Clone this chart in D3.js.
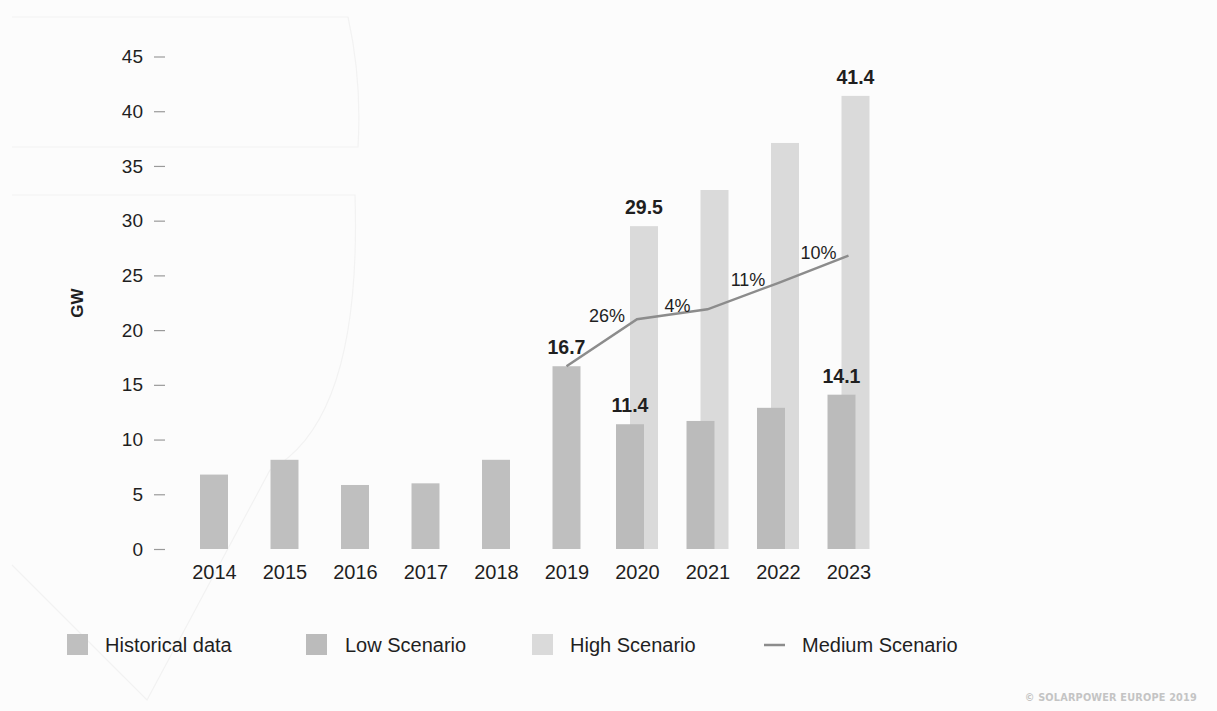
<!DOCTYPE html>
<html>
<head>
<meta charset="utf-8">
<script src="https://cdn.jsdelivr.net/npm/d3@7"></script>
<style>
  html, body { margin: 0; padding: 0; background: #fcfcfc; }
  svg { display: block; font-family: "Liberation Sans", Arial, Helvetica, sans-serif; }
</style>
</head>
<body>
<svg id="chart" width="1217" height="711"></svg>
<script>
// Installed PV capacity (GW), historical and scenario outlook
const years = ["2014", "2015", "2016", "2017", "2018", "2019", "2020", "2021", "2022", "2023"];
const historicalYears = ["2014", "2015", "2016", "2017", "2018", "2019"];
const historicalValues = [6.8, 8.15, 5.85, 6.0, 8.15, 16.7];
const scenarioYears = ["2020", "2021", "2022", "2023"];
const lowValues = [11.4, 11.7, 12.9, 14.1];
const highValues = [29.5, 32.8, 37.1, 41.4];
const mediumYears = ["2019", "2020", "2021", "2022", "2023"];
const mediumValues = [16.7, 21.0, 21.9, 24.3, 26.8];
const growthLabels = ["26%", "4%", "11%", "10%"];
const yTicks = [0, 5, 10, 15, 20, 25, 30, 35, 40, 45];
const legendLabels = ["Historical data", "Low Scenario", "High Scenario", "Medium Scenario"];

const colors = { historical: "#bfbfbf", low: "#bbbbbb", high: "#dadada", medium: "#8c8c8c", text: "#1f1f1f" };

const svg = d3.select("#chart");

// faint decorative background shapes
const deco = svg.append("g").attr("fill", "none").attr("stroke", "#f2f2f2").attr("stroke-width", 1.2);
deco.append("path").attr("d", "M12,17 L348,17 Q362,80 358,147 L12,147");
deco.append("path").attr("d", "M12,195 L355,195 Q362,420 270,470 Q200,600 147,700 L12,565");

const y = d3.scaleLinear().domain([0, 45]).range([549, 56.5]);
const x = d3.scalePoint().domain(years).range([214, 848.5]);
const barW = 28;
const offset = 7;

// y axis: short dash ticks, no domain line
const yAxis = svg.append("g")
  .attr("transform", "translate(165,0)")
  .call(d3.axisLeft(y).tickValues(yTicks).tickSize(11).tickPadding(11));
yAxis.select(".domain").remove();
yAxis.selectAll(".tick line").attr("stroke", "#9a9a9a").attr("stroke-width", 1.2);
yAxis.selectAll(".tick text").attr("font-size", 19).attr("fill", colors.text)
  .attr("font-family", "Liberation Sans, Arial, sans-serif");

// x axis labels
const xAxis = svg.append("g")
  .attr("transform", "translate(0,549)")
  .call(d3.axisBottom(x).tickSize(0).tickPadding(16));
xAxis.select(".domain").remove();
xAxis.selectAll(".tick text").attr("font-size", 20).attr("fill", colors.text)
  .attr("font-family", "Liberation Sans, Arial, sans-serif");

// axis title
svg.append("text")
  .attr("transform", "translate(83,303) rotate(-90)")
  .attr("text-anchor", "middle")
  .attr("font-size", 17).attr("font-weight", "bold").attr("fill", colors.text)
  .text("GW");

// high scenario bars (behind)
svg.append("g").selectAll("rect")
  .data(scenarioYears.map((yr, i) => ({ yr, v: highValues[i] })))
  .join("rect")
  .attr("x", d => x(d.yr) + offset - barW / 2)
  .attr("y", d => y(d.v))
  .attr("width", barW)
  .attr("height", d => y(0) - y(d.v))
  .attr("fill", colors.high);

// low scenario bars
svg.append("g").selectAll("rect")
  .data(scenarioYears.map((yr, i) => ({ yr, v: lowValues[i] })))
  .join("rect")
  .attr("x", d => x(d.yr) - offset - barW / 2)
  .attr("y", d => y(d.v))
  .attr("width", barW)
  .attr("height", d => y(0) - y(d.v))
  .attr("fill", colors.low);

// historical bars
svg.append("g").selectAll("rect")
  .data(historicalYears.map((yr, i) => ({ yr, v: historicalValues[i] })))
  .join("rect")
  .attr("x", d => x(d.yr) - barW / 2)
  .attr("y", d => y(d.v))
  .attr("width", barW)
  .attr("height", d => y(0) - y(d.v))
  .attr("fill", colors.historical);

// medium scenario line
const medPts = mediumYears.map((yr, i) => ({ yr, v: mediumValues[i] }));
svg.append("path")
  .datum(medPts)
  .attr("fill", "none")
  .attr("stroke", colors.medium)
  .attr("stroke-width", 2.5)
  .attr("d", d3.line().x(d => x(d.yr)).y(d => y(d.v)));

// growth rate labels, left of each segment's end point
svg.append("g").selectAll("text")
  .data(growthLabels.map((t, i) => ({ t, p: medPts[i + 1] })))
  .join("text")
  .attr("x", d => x(d.p.yr) - 30)
  .attr("y", d => y(d.p.v) + 3)
  .attr("text-anchor", "middle")
  .attr("font-size", 18).attr("fill", colors.text)
  .text(d => d.t);

// value labels
const valueLabels = [
  { yr: "2019", v: historicalValues[5], dx: 0 },
  { yr: "2020", v: highValues[0], dx: offset },
  { yr: "2023", v: highValues[3], dx: offset },
  { yr: "2020", v: lowValues[0], dx: -offset },
  { yr: "2023", v: lowValues[3], dx: -offset }
];
svg.append("g").selectAll("text")
  .data(valueLabels)
  .join("text")
  .attr("x", d => x(d.yr) + d.dx)
  .attr("y", d => y(d.v) - 12)
  .attr("text-anchor", "middle")
  .attr("font-size", 19.5).attr("font-weight", "bold").attr("fill", colors.text)
  .text(d => d.v.toFixed(1));

// legend
const legendX = [67, 306, 532, 764];
const legendTextX = [105, 345, 570, 802];
const legendFill = [colors.historical, colors.low, colors.high, null];
const lg = svg.append("g");
legendLabels.forEach((label, i) => {
  if (legendFill[i]) {
    lg.append("rect").attr("x", legendX[i]).attr("y", 634).attr("width", 21).attr("height", 21)
      .attr("fill", legendFill[i]);
  } else {
    lg.append("line").attr("x1", legendX[i]).attr("x2", legendX[i] + 21)
      .attr("y1", 645).attr("y2", 645)
      .attr("stroke", colors.medium).attr("stroke-width", 2.5);
  }
  lg.append("text").attr("x", legendTextX[i]).attr("y", 652)
    .attr("font-size", 20).attr("fill", colors.text).text(label);
});

// source note
svg.append("text")
  .attr("x", 1197).attr("y", 701)
  .attr("text-anchor", "end")
  .attr("font-size", 10.8).attr("font-weight", "bold")
  .attr("font-family", "DejaVu Sans Condensed, DejaVu Sans, sans-serif")
  .attr("letter-spacing", 0.2)
  .attr("fill", "#c4c4c4")
  .text("© SOLARPOWER EUROPE 2019");
</script>
</body>
</html>
